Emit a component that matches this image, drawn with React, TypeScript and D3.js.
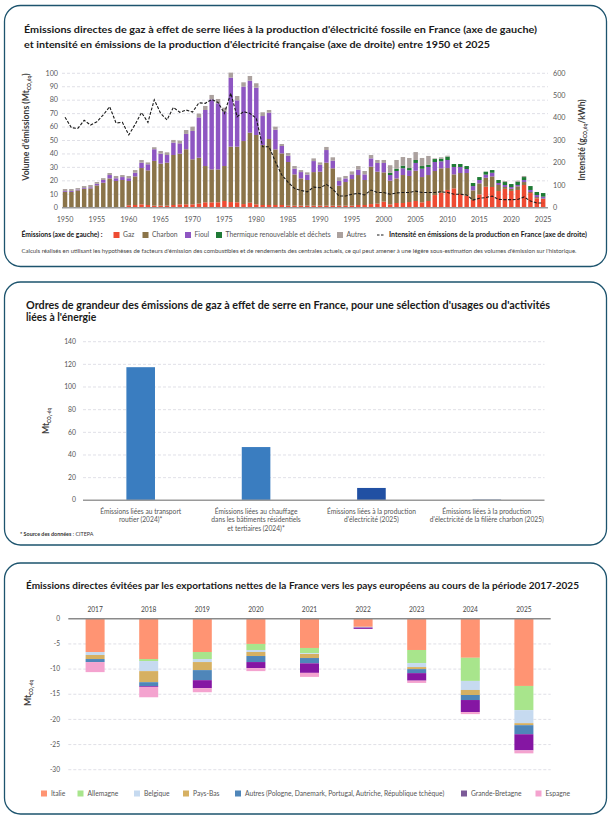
import React from 'react';
import * as d3 from 'd3';

// ---------- Graphique 1 : émissions de la production d'électricité fossile ----------
const annees = d3.range(1950, 2026);

const gaz = [
  0.3, 0.3, 0.3, 0.3, 0.3, 0.3, 0.3, 0.3, 0.3, 0.5,
  1.8, 2.0, 2.5, 2.0, 1.5, 1.5, 1.5, 2.0, 2.5, 2.5,
  2.5, 3.0, 4.0, 4.0, 4.0, 5.0, 4.2, 4.0, 2.7, 3.7,
  2.5, 2.0, 2.0, 2.0, 2.0, 1.5, 1.5, 1.5, 1.5, 1.5,
  1.5, 1.5, 1.5, 1.5, 1.5, 1.5, 2.0, 2.0, 2.7, 3.0,
  4.5, 2.5, 3.5, 3.5, 4.2, 5.0, 4.0, 5.0, 9.4, 11.2,
  13.2, 14.4, 10.2, 8.9, 5.7, 9.9, 15.6, 15.4, 12.4, 14.0,
  12.5, 13.2, 16.9, 10.9, 7.0, 6.5,
];
const charbon = [
  11.5, 11.4, 12.6, 13.7, 14.1, 16.3, 18.3, 21.5, 19.6, 20.1,
  18.1, 21.3, 27.0, 25.8, 33.3, 31.3, 32.0, 37.2, 37.7, 41.0,
  33.5, 34.2, 27.0, 24.5, 24.5, 26.0, 41.2, 41.4, 46.9, 52.1,
  51.6, 44.6, 49.1, 41.4, 38.4, 32.5, 23.3, 20.3, 19.1, 25.0,
  25.3, 32.0, 27.8, 14.9, 17.6, 19.8, 22.3, 18.6, 27.8, 23.8,
  21.8, 17.6, 18.3, 20.8, 19.4, 22.5, 18.8, 19.3, 17.9, 18.1,
  16.3, 10.4, 15.6, 16.9, 7.2, 8.2, 6.7, 7.9, 4.5, 1.4,
  1.6, 2.7, 2.2, 0.8, 0.9, 0.4,
];
const fioul = [
  0.6, 0.7, 0.6, 0.6, 0.8, 1.2, 2.0, 2.5, 2.0, 2.2,
  2.0, 2.7, 4.0, 4.5, 8.7, 7.4, 5.7, 9.2, 7.7, 11.4,
  21.1, 30.0, 41.7, 52.1, 49.2, 40.5, 51.4, 34.5, 40.5, 38.7,
  35.2, 21.6, 19.6, 14.6, 5.5, 4.7, 4.2, 4.7, 4.0, 8.2,
  5.2, 9.4, 5.7, 3.5, 2.7, 3.5, 4.0, 4.2, 6.2, 6.5,
  7.0, 4.2, 5.5, 5.0, 4.2, 5.8, 6.2, 6.0, 6.7, 5.2,
  6.0, 5.5, 4.5, 3.0, 3.2, 2.5, 2.3, 2.7, 1.5, 1.5,
  1.3, 1.0, 1.5, 1.5, 1.5, 1.3,
];
const thermique = [
  0, 0, 0, 0, 0, 0, 0, 0, 0, 0,
  0, 0, 0, 0, 0, 0, 0, 0, 0, 0,
  0, 0, 0, 0, 0, 0, 0, 0, 0, 0,
  0, 0, 0, 0, 0, 0, 0, 0, 0, 0,
  0, 0, 0, 0, 0, 0, 0, 0, 0, 0,
  0, 1.7, 1.7, 2.0, 1.7, 2.2, 2.0, 1.7, 2.2, 2.0,
  2.5, 2.2, 2.2, 2.2, 2.3, 2.2, 2.2, 2.0, 2.2, 2.2,
  2.2, 2.5, 2.2, 2.9, 2.3, 2.7,
];
const autres = [
  1.5, 1.5, 1.1, 1.5, 1.7, 1.3, 1.4, 1.5, 1.7, 1.5,
  1.7, 2.0, 2.0, 1.4, 1.5, 2.0, 2.0, 2.0, 2.0, 2.9,
  3.2, 2.8, 3.0, 3.3, 3.2, 2.9, 3.7, 3.2, 3.2, 3.5,
  3.3, 2.8, 2.0, 2.3, 1.5, 2.0, 2.0, 1.5, 1.7, 2.0,
  1.7, 2.3, 2.5, 2.7, 1.8, 2.2, 2.7, 2.5, 2.5, 2.2,
  2.2, 5.6, 6.5, 6.4, 7.5, 5.9, 6.0, 6.5, 0.5, 1.0,
  0.7, 0, 0, 0, 0, 0, 0, 0, 0, 0.7,
  0, 0.7, 0.8, 0, 0, 0,
];
// gCO2éq/kWh (axe de droite)
const intensite = [
  404, 357, 354, 390, 369, 384, 414, 451, 378, 381,
  325, 372, 425, 381, 482, 421, 392, 448, 426, 436,
  427, 468, 466, 483, 470, 421, 511, 406, 429, 421,
  399, 272, 272, 205, 146, 113, 86, 77, 71, 92,
  89, 104, 83, 52, 52, 60, 64, 57, 79, 68,
  68, 60, 66, 68, 68, 74, 68, 68, 68, 71,
  68, 60, 60, 57, 34, 42, 45, 52, 37, 36,
  36, 37, 48, 30, 21, 21,
];

const clesTop = ['gaz', 'charbon', 'fioul', 'thermique', 'autres'];
const libellesTop = ['Gaz', 'Charbon', 'Fioul', 'Thermique renouvelable et déchets', 'Autres'];
const couleursTop = ['#ee4b32', '#8b7449', '#8e56c2', '#1f7a35', '#aba19e'];

// ---------- Graphique 2 : ordres de grandeur ----------
const categoriesM = [
  ['Émissions liées au transport', 'routier (2024)*'],
  ['Émissions liées au chauffage', 'dans les bâtiments résidentiels', 'et tertiaires (2024)*'],
  ['Émissions liées à la production', "d'électricité (2025)"],
  ['Émissions liées à la production', "d'électricité de la filière charbon (2025)"],
];
const valeursM = [117.5, 47, 10.9, 0.6];
const couleursM = ['#3a7dc0', '#3a7dc0', '#2150a3', '#2a4f8c'];

// ---------- Graphique 3 : émissions évitées par les exportations ----------
const anneesB = ['2017', '2018', '2019', '2020', '2021', '2022', '2023', '2024', '2025'];
const italie = [-6.6, -8.0, -6.6, -5.0, -5.8, -1.6, -6.2, -7.75, -13.35];
const allemagne = [0, -0.4, -1.4, -1.2, -1.05, 0, -2.6, -4.6, -4.8];
const belgique = [-0.6, -2.0, -0.6, -0.4, -0.15, -0.1, -0.8, -1.8, -2.6];
const paysBas = [-0.8, -2.2, -1.6, -0.8, -0.8, 0, -0.4, -1.0, -0.4];
const autresPays = [-0.6, -0.8, -2.0, -1.2, -1.05, -0.05, -0.8, -1.0, -1.8];
const grandeBretagne = [0, -0.15, -1.6, -1.2, -1.9, -0.25, -1.5, -2.4, -3.2];
const espagne = [-2.0, -2.05, -0.8, -0.6, -0.8, 0, -0.45, -0.4, -0.6];

const clesB = ['italie', 'allemagne', 'belgique', 'paysBas', 'autres', 'gb', 'espagne'];
const libellesB = [
  'Italie', 'Allemagne', 'Belgique', 'Pays-Bas',
  'Autres (Pologne, Danemark, Portugal, Autriche, République tchèque)',
  'Grande-Bretagne', 'Espagne',
];
const couleursB = ['#ff9473', '#a8e58c', '#c6daf0', '#d6b062', '#4f86b9', '#8516a3', '#f4a3cf'];
const legendeB = [41, 77.5, 134, 183, 235, 461, 535.5];

const FONT = 'Lato, "Open Sans", sans-serif';
const BORD = '#1d546e';

function GraphiqueHaut() {
  const x = d3.scaleBand<number>().domain(annees).range([62.8, 545.4]).paddingInner(0.3);
  const y = d3.scaleLinear().domain([0, 100]).range([207.7, 73.3]);
  const yD = d3.scaleLinear().domain([0, 600]).range([207.7, 73.3]);

  const lignes = annees.map((a, i) => ({
    annee: a, gaz: gaz[i], charbon: charbon[i], fioul: fioul[i],
    thermique: thermique[i], autres: autres[i],
  }));
  const pile = d3.stack<any>().keys(clesTop)(lignes);
  const ligne = d3.line<number>()
    .x((_, i) => (x(annees[i]) as number) + x.bandwidth() / 2)
    .y((d) => yD(d));

  const legendeX = [113.5, 142.5, 185, 216, 337];

  return (
    <g fontFamily={FONT}>
      <rect x={4.5} y={5.5} width={602} height={261} rx={16} fill="none" stroke={BORD} strokeWidth={1.3} />
      <text x={24} y={33} fontSize={10} fontWeight={700} fill="#1a1a1a" textLength={513} lengthAdjust="spacingAndGlyphs">
        Émissions directes de gaz à effet de serre liées à la production d'électricité fossile en France (axe de gauche)
      </text>
      <text x={24} y={48} fontSize={10} fontWeight={700} fill="#1a1a1a" textLength={466} lengthAdjust="spacingAndGlyphs">
        et intensité en émissions de la production d'électricité française (axe de droite) entre 1950 et 2025
      </text>

      {y.ticks(10).map((t) => (
        <g key={t}>
          {t > 0 && (
            <line x1={62} x2={548} y1={y(t)} y2={y(t)} stroke="#d3d3dc" strokeDasharray="3,2" strokeWidth={0.7} />
          )}
          <text x={58} y={y(t)} dy="0.32em" textAnchor="end" fontSize={7.2} fill="#5a5a5a">{t}</text>
        </g>
      ))}
      {yD.ticks(6).map((t) => (
        <text key={t} x={553} y={yD(t)} dy="0.32em" fontSize={7.2} fill="#5a5a5a">{t}</text>
      ))}

      {pile.map((s, k) => (
        <g key={clesTop[k]} fill={couleursTop[k]}>
          {s.map((d: any) => (
            <rect key={d.data.annee} x={x(d.data.annee)} width={x.bandwidth()}
              y={y(d[1])} height={Math.max(0, y(d[0]) - y(d[1]))} />
          ))}
        </g>
      ))}
      <line x1={62} x2={548} y1={y(0)} y2={y(0)} stroke="#9a9a9a" strokeWidth={1.5} />

      <path d={ligne(intensite) as string} fill="none" stroke="#1a1a1a" strokeWidth={1.1} strokeDasharray="3,1.6" />

      {annees.filter((a) => a % 5 === 0).map((a) => (
        <text key={a} x={(x(a) as number) + x.bandwidth() / 2} y={222} textAnchor="middle" fontSize={7.2} fill="#5a5a5a">{a}</text>
      ))}

      <text transform="translate(29,127) rotate(-90)" textAnchor="middle" fontSize={8.6} fontWeight={700} fill="#3b3b3b">
        <tspan>Volume d'émissions (Mt</tspan>
        <tspan fontSize={5} dy={2}>CO₂éq</tspan>
        <tspan dy={-2}>)</tspan>
      </text>
      <text transform="translate(585,140) rotate(-90)" textAnchor="middle" fontSize={8.6} fontWeight={700} fill="#3b3b3b">
        <tspan>Intensité (g</tspan>
        <tspan fontSize={5} dy={2}>CO₂éq</tspan>
        <tspan dy={-2}>/kWh)</tspan>
      </text>

      <text x={21.5} y={237.3} fontSize={6.8} fontWeight={700} fill="#1a1a1a">Émissions (axe de gauche) :</text>
      {libellesTop.map((l, i) => (
        <g key={l}>
          <rect x={legendeX[i]} y={232} width={6} height={6} fill={couleursTop[i]} />
          <text x={legendeX[i] + 9.5} y={237.3} fontSize={6.8} fill="#555">{l}</text>
        </g>
      ))}
      <line x1={377} x2={385} y1={235} y2={235} stroke="#1a1a1a" strokeWidth={1.2} strokeDasharray="2.5,1.5" />
      <text x={389} y={237.3} fontSize={6.8} fontWeight={700} fill="#1a1a1a" textLength={198} lengthAdjust="spacingAndGlyphs">
        Intensité en émissions de la production en France (axe de droite)
      </text>
      <text x={21.5} y={253} fontSize={4.9} fill="#444" textLength={555} lengthAdjust="spacingAndGlyphs">
        Calculs réalisés en utilisant les hypothèses de facteurs d'émission des combustibles et de rendements des centrales actuels, ce qui peut amener à une légère sous-estimation des volumes d'émission sur l'historique.
      </text>
    </g>
  );
}

function GraphiqueMilieu() {
  const x = d3.scaleBand<number>().domain(d3.range(valeursM.length)).range([83, 544.5]);
  const y = d3.scaleLinear().domain([0, 140]).range([500.3, 341.7]);
  const largeur = 28.6;

  return (
    <g fontFamily={FONT}>
      <rect x={4.5} y={282} width={602} height={263} rx={16} fill="none" stroke={BORD} strokeWidth={1.3} />
      <text x={26} y={308.5} fontSize={10.4} fontWeight={700} fill="#1a1a1a" textLength={524} lengthAdjust="spacingAndGlyphs">
        Ordres de grandeur des émissions de gaz à effet de serre en France, pour une sélection d'usages ou d'activités
      </text>
      <text x={26} y={320.5} fontSize={10.4} fontWeight={700} fill="#1a1a1a">liées à l'énergie</text>

      {y.ticks(7).map((t) => (
        <g key={t}>
          {t > 0 && (
            <line x1={83} x2={544.5} y1={y(t)} y2={y(t)} stroke="#d3d3dc" strokeDasharray="3,2" strokeWidth={0.7} />
          )}
          <text x={76} y={y(t)} dy="0.32em" textAnchor="end" fontSize={6.8} fill="#555">{t}</text>
        </g>
      ))}
      {valeursM.map((v, i) => (
        <rect key={i} x={(x(i) as number) + x.bandwidth() / 2 - largeur / 2} width={largeur}
          y={y(v)} height={y(0) - y(v)} fill={couleursM[i]} />
      ))}
      <line x1={83} x2={544.5} y1={y(0)} y2={y(0)} stroke="#9a9a9a" strokeWidth={1.5} />

      {categoriesM.map((c, i) => (
        <text key={i} textAnchor="middle" fontSize={6.7} fill="#555">
          {c.map((l, j) => (
            <tspan key={j} x={(x(i) as number) + x.bandwidth() / 2} y={514 + j * 8.3}>{l}</tspan>
          ))}
        </text>
      ))}

      <text transform="translate(49,421) rotate(-90)" textAnchor="middle" fontSize={8.6} fontWeight={700} fill="#3b3b3b">
        <tspan>Mt</tspan>
        <tspan fontSize={4.6} dy={2}>CO₂-éq</tspan>
      </text>
      <text x={20} y={536} fontSize={5.4} fill="#333">
        <tspan fontWeight={700}>* Source des données</tspan>
        <tspan> : CITEPA</tspan>
      </text>
    </g>
  );
}

function GraphiqueBas() {
  const x = d3.scaleBand<string>().domain(anneesB).range([68.3, 550.7]);
  const y = d3.scaleLinear().domain([-30, 0]).range([769.7, 618.8]);
  const largeur = 19;

  const lignes = anneesB.map((a, i) => ({
    annee: a, italie: italie[i], allemagne: allemagne[i], belgique: belgique[i],
    paysBas: paysBas[i], autres: autresPays[i], gb: grandeBretagne[i], espagne: espagne[i],
  }));
  const pile = d3.stack<any>().keys(clesB).offset(d3.stackOffsetDiverging)(lignes);

  return (
    <g fontFamily={FONT}>
      <rect x={4.5} y={563} width={602} height={251} rx={16} fill="none" stroke={BORD} strokeWidth={1.3} />
      <text x={26} y={589} fontSize={10} fontWeight={700} fill="#1a1a1a" textLength={553} lengthAdjust="spacingAndGlyphs">
        Émissions directes évitées par les exportations nettes de la France vers les pays européens au cours de la période 2017-2025
      </text>

      {y.ticks(6).map((t) => (
        <g key={t}>
          {t < 0 && (
            <line x1={68.3} x2={550.7} y1={y(t)} y2={y(t)} stroke="#d3d3dc" strokeDasharray="3,2" strokeWidth={0.7} />
          )}
          <text x={60} y={y(t)} dy="0.32em" textAnchor="end" fontSize={6.6} fill="#555">{t}</text>
        </g>
      ))}

      {pile.map((s, k) => (
        <g key={clesB[k]} fill={couleursB[k]}>
          {s.map((d: any) => (
            <rect key={d.data.annee} x={(x(d.data.annee) as number) + x.bandwidth() / 2 - largeur / 2} width={largeur}
              y={y(d[1])} height={Math.max(0, y(d[0]) - y(d[1]))} />
          ))}
        </g>
      ))}
      <line x1={68.3} x2={550.7} y1={y(0)} y2={y(0)} stroke="#8a8a8a" strokeWidth={1.5} />

      {anneesB.map((a) => (
        <text key={a} x={(x(a) as number) + x.bandwidth() / 2} y={612} textAnchor="middle" fontSize={6.6} fill="#444">{a}</text>
      ))}

      <text transform="translate(31,693) rotate(-90)" textAnchor="middle" fontSize={8.6} fontWeight={700} fill="#3b3b3b">
        <tspan>Mt</tspan>
        <tspan fontSize={4.6} dy={2}>CO₂-éq</tspan>
      </text>

      {libellesB.map((l, i) => (
        <g key={l}>
          <rect x={legendeB[i]} y={790.5} width={6} height={6} fill={i === 5 ? '#7c5a98' : couleursB[i]} />
          <text x={legendeB[i] + 10} y={796} fontSize={6.7} fill="#555">{l}</text>
        </g>
      ))}
    </g>
  );
}

export default function App() {
  return (
    <svg width={611} height={821} viewBox="0 0 611 821"
      style={{ position: 'absolute', left: 0, top: 0, background: '#fff' }}>
      <rect width={611} height={821} fill="#fff" />
      <GraphiqueHaut />
      <GraphiqueMilieu />
      <GraphiqueBas />
    </svg>
  );
}
